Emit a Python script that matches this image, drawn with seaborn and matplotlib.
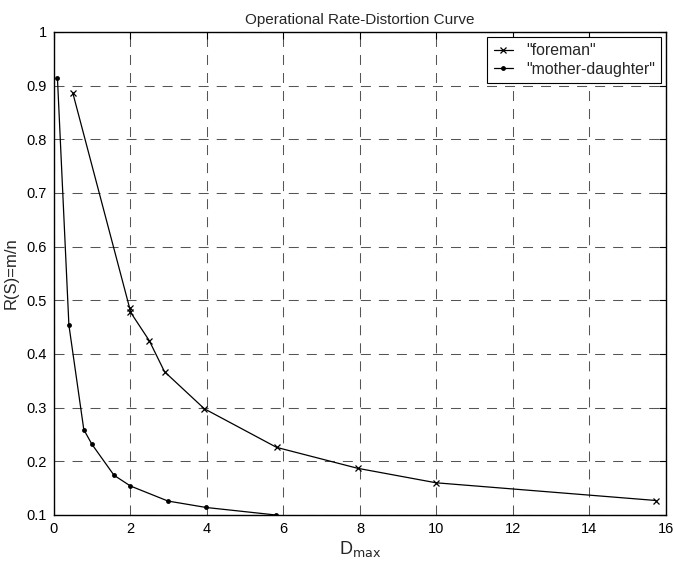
import matplotlib
matplotlib.use("Agg")
import matplotlib.pyplot as plt
import seaborn as sns
import pandas as pd

# Operational rate-distortion points for two test sequences
foreman_d = [0.49, 1.98, 2.0, 2.49, 2.89, 3.93, 5.82, 7.94, 9.99, 15.74]
foreman_r = [0.887, 0.485, 0.478, 0.425, 0.367, 0.298, 0.226, 0.187, 0.160, 0.127]

md_d = [0.09, 0.39, 0.78, 0.99, 1.57, 2.0, 2.98, 3.98, 5.8]
md_r = [0.915, 0.454, 0.259, 0.232, 0.174, 0.154, 0.126, 0.114, 0.100]

x_ticks = [0, 2, 4, 6, 8, 10, 12, 14, 16]
y_ticks = [0.1, 0.2, 0.3, 0.4, 0.5, 0.6, 0.7, 0.8, 0.9, 1.0]
y_tick_labels = ["0.1", "0.2", "0.3", "0.4", "0.5", "0.6", "0.7", "0.8", "0.9", "1"]

sns.set_theme(style="white")
plt.rcParams["font.family"] = ["Liberation Sans", "DejaVu Sans"]

fig = plt.figure(figsize=(6.73, 5.61), dpi=100)
ax = fig.add_axes([0.0802, 0.082, 0.9094, 0.861])

df_f = pd.DataFrame({"D": foreman_d, "R": foreman_r})
df_m = pd.DataFrame({"D": md_d, "R": md_r})

sns.lineplot(data=df_f, x="D", y="R", sort=False, ax=ax, color="black",
             lw=0.9, marker="x", markersize=5, markeredgewidth=0.9,
             markeredgecolor="black", label='"foreman"')
sns.lineplot(data=df_m, x="D", y="R", sort=False, ax=ax, color="black",
             lw=0.9, marker="o", markersize=3.5, markeredgewidth=0,
             markerfacecolor="black", label='"mother-daughter"')

ax.set_xlim(0, 16)
ax.set_ylim(0.1, 1.0)
ax.set_xticks(x_ticks)
ax.set_xticklabels([str(t) for t in x_ticks])
ax.set_yticks(y_ticks)
ax.set_yticklabels(y_tick_labels)

ax.grid(True, color="#555555", linestyle=(0, (9.6, 7.7)), linewidth=0.75)
ax.set_axisbelow(True)
for s in ax.spines.values():
    s.set_color("black")
    s.set_linewidth(1.0)
ax.tick_params(direction="in", length=5, width=0.8, top=True, right=True,
               labelsize=10.5, colors="black", pad=5)

ax.set_title("Operational Rate-Distortion Curve", fontsize=11, pad=6)
ax.set_xlabel(r"D$_{\mathrm{max}}$", fontsize=13, labelpad=2)
ax.set_ylabel("R(S)=m/n", fontsize=12, labelpad=6)

leg = ax.legend(loc="upper right", fontsize=11.4, frameon=True, fancybox=False,
                handlelength=1.25, borderaxespad=0.3, borderpad=0.4,
                labelspacing=0.25, handletextpad=0.8)
leg.get_frame().set_edgecolor("black")
leg.get_frame().set_linewidth(0.8)
leg.get_frame().set_alpha(1)

fig.savefig("out.png", dpi=100, facecolor="white")
